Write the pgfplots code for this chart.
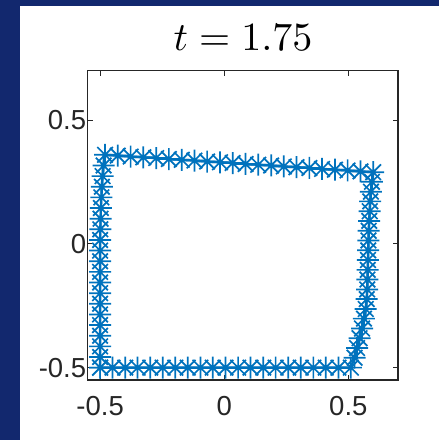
\documentclass[border=0pt]{standalone}
\usepackage[no-math]{fontspec}
\setmainfont{Liberation Sans}
\usepackage{pgfplots}
\pgfplotsset{compat=1.18}

\definecolor{navybg}{RGB}{18,40,110}
\definecolor{mblue}{RGB}{0,114,189}
\definecolor{axgray}{RGB}{38,38,38}

% MATLAB-style asterisk: plus and cross combined
\pgfdeclareplotmark{mstar}{%
  \pgfpathmoveto{\pgfqpoint{\pgfplotmarksize}{0pt}}%
  \pgfpathlineto{\pgfqpoint{-\pgfplotmarksize}{0pt}}%
  \pgfpathmoveto{\pgfqpoint{0pt}{\pgfplotmarksize}}%
  \pgfpathlineto{\pgfqpoint{0pt}{-\pgfplotmarksize}}%
  \pgfpathmoveto{\pgfqpoint{0.7071\pgfplotmarksize}{0.7071\pgfplotmarksize}}%
  \pgfpathlineto{\pgfqpoint{-0.7071\pgfplotmarksize}{-0.7071\pgfplotmarksize}}%
  \pgfpathmoveto{\pgfqpoint{0.7071\pgfplotmarksize}{-0.7071\pgfplotmarksize}}%
  \pgfpathlineto{\pgfqpoint{-0.7071\pgfplotmarksize}{0.7071\pgfplotmarksize}}%
  \pgfusepathqstroke}

\begin{document}
\begin{tikzpicture}
  % frame
  \fill[navybg] (0pt,0pt) rectangle (439pt,-440pt);
  \fill[white] (20pt,-6pt) rectangle (439pt,-440pt);
  \node[anchor=base, inner sep=0pt, scale=4, font=\normalsize] at (243pt,-50pt) {$t = 1.75$};
  \begin{axis}[
    at={(87.7pt,-380pt)}, anchor=south west,
    scale only axis, width=310.3pt, height=309.3pt,
    xmin=-0.55, xmax=0.7, ymin=-0.55, ymax=0.7,
    xtick={-0.5,0,0.5}, xticklabels={-0.5,0,0.5},
    ytick={-0.5,0,0.5}, yticklabels={-0.5,0,0.5},
    tick align=inside, major tick length=5pt,
    axis line style={axgray, line width=1.3pt},
    every tick/.style={axgray, line width=1.1pt},
    tick label style={font=\fontsize{27.5}{32}\selectfont, text=axgray},
    xticklabel style={yshift=-13pt},
    yticklabel style={xshift=2pt},
  ]
    \addplot[mblue, line width=2.4pt, mark=mstar, mark size=11pt,
             mark options={line width=1.7pt}] coordinates {
      % bottom edge
      (-0.500,-0.500) (-0.450,-0.500) (-0.399,-0.500) (-0.349,-0.500)
      (-0.298,-0.500) (-0.248,-0.500) (-0.197,-0.500) (-0.147,-0.500)
      (-0.096,-0.500) (-0.046,-0.500) (0.005,-0.500) (0.056,-0.500)
      (0.106,-0.500) (0.157,-0.500) (0.207,-0.500) (0.258,-0.500)
      (0.308,-0.500) (0.359,-0.500) (0.409,-0.500) (0.460,-0.500)
      (0.510,-0.500)
      % right edge
      (0.525,-0.460) (0.535,-0.421) (0.545,-0.381) (0.555,-0.342)
      (0.563,-0.302) (0.570,-0.263) (0.574,-0.223) (0.576,-0.184)
      (0.577,-0.144) (0.578,-0.105) (0.579,-0.065) (0.580,-0.026)
      (0.581,0.014) (0.582,0.053) (0.584,0.093) (0.586,0.132)
      (0.588,0.172) (0.591,0.211) (0.595,0.251) (0.600,0.290)
      % top edge
      (0.549,0.293) (0.497,0.297) (0.446,0.300) (0.394,0.303)
      (0.343,0.307) (0.291,0.310) (0.240,0.313) (0.189,0.317)
      (0.137,0.320) (0.086,0.323) (0.034,0.327) (-0.017,0.330)
      (-0.069,0.333) (-0.120,0.337) (-0.171,0.340) (-0.223,0.343)
      (-0.274,0.347) (-0.326,0.350) (-0.377,0.353) (-0.429,0.357)
      (-0.480,0.360)
      % left edge
      (-0.486,0.317) (-0.490,0.274) (-0.493,0.231) (-0.495,0.188)
      (-0.497,0.145) (-0.498,0.102) (-0.499,0.059) (-0.500,0.016)
      (-0.500,-0.027) (-0.500,-0.070) (-0.500,-0.113) (-0.500,-0.156)
      (-0.500,-0.199) (-0.500,-0.242) (-0.500,-0.285) (-0.500,-0.328)
      (-0.500,-0.371) (-0.500,-0.414) (-0.500,-0.457) (-0.500,-0.500)
    };
  \end{axis}
\end{tikzpicture}
\end{document}
